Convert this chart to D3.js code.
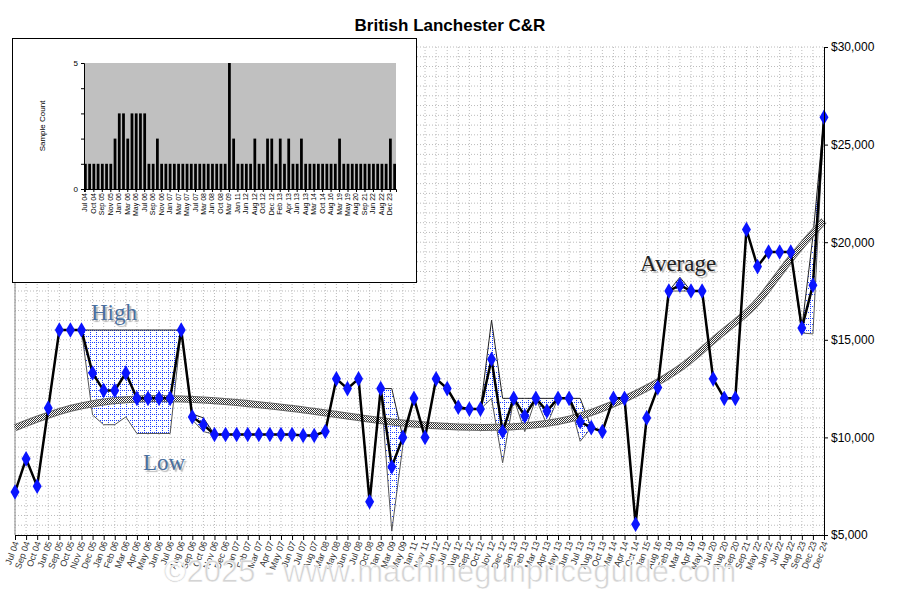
<!DOCTYPE html>
<html><head><meta charset="utf-8">
<script src="https://cdn.jsdelivr.net/npm/d3@7"></script>
<style>body{margin:0;background:#fff}svg{display:block}</style>
</head><body>
<script>
const categories=["Jul 04","Sep 04","Oct 04","Jun 05","Sep 05","Oct 05","Nov 05","Dec 05","Jan 06","Feb 06","Mar 06","Apr 06","May 06","Jun 06","Jul 06","Aug 06","Sep 06","Oct 06","Nov 06","Dec 06","Jan 07","Feb 07","Mar 07","Apr 07","May 07","Jun 07","Jul 07","Aug 07","Mar 08","May 08","Jun 08","Jul 08","Oct 08","Jan 09","Mar 09","May 09","Jan 11","Nov 11","Jun 12","Jul 12","Aug 12","Sep 12","Oct 12","Nov 12","Dec 12","Jan 13","Feb 13","Mar 13","Apr 13","May 13","Jun 13","Jul 13","Aug 13","Oct 13","Mar 14","Apr 14","Oct 14","Jan 15","Aug 16","Feb 19","Mar 19","Apr 19","May 19","Jul 20","Aug 20","Sep 20","Sep 21","May 22","Jun 22","Jul 22","Aug 22","Sep 23","Dec 23","Dec 24"];
const avgValues=[7200,8900,7500,11500,15500,15500,15500,13300,12400,12400,13300,12000,12000,12000,12000,15500,11050,10650,10150,10150,10150,10150,10150,10150,10150,10150,10100,10100,10300,13000,12500,13000,6700,12500,8500,10000,12000,10000,13000,12500,11550,11450,11450,14000,10300,12000,11100,12000,11350,12000,12000,10800,10500,10300,12000,12000,5550,11000,12550,17500,17800,17500,17500,13000,12000,12000,20650,18750,19500,19500,19500,15600,17800,26400];
const highValues=[7200,8900,7500,11500,15500,15500,15500,15500,15500,15500,15500,15500,15500,15500,15500,15500,11200,11000,10150,10150,10150,10150,10150,10150,10150,10150,10100,10100,10300,13000,12500,13000,6700,12500,12500,10000,12000,10000,13000,12500,11600,11450,11450,16000,12000,12000,12000,12000,12000,12000,12000,12000,10500,10300,12000,12000,5550,11000,12550,17500,18200,17500,17500,13000,12000,12000,20650,18750,19500,19500,19500,15600,20300,26400];
const lowValues=[7200,8900,7500,11500,15500,15500,15500,11150,10650,10650,11050,10200,10200,10200,10200,15500,10900,10300,10150,10150,10150,10150,10150,10150,10150,10150,10100,10100,10300,13000,12500,13000,6700,12500,5200,9600,12000,10000,13000,12500,11400,11450,11450,12000,8700,12000,10300,12000,10650,12000,12000,9800,10500,10300,12000,12000,5550,11000,12550,17500,17500,17500,17500,13000,12000,12000,20650,18750,19500,19500,19500,15350,15300,26400];
const trendIdx=[0,5,10,15,20,25,30,35,40,45,50,55,60,63,65,67,70,73];
const trendValues=[10500,11600,12000,12000,11800,11500,11100,10700,10500,10500,10800,11900,13400,15000,15900,16800,19250,21100];
const sampleCounts=[1,1,1,1,1,1,1,2,3,3,2,3,3,3,3,1,1,2,1,1,1,1,1,1,1,1,1,1,1,1,1,1,1,1,5,2,1,1,1,1,2,1,1,2,2,1,2,1,2,1,1,2,1,1,1,1,1,1,1,1,2,1,1,1,1,1,1,1,1,1,1,1,2,1];
const yTicks=[5000,10000,15000,20000,25000,30000];

const W=900,H=612;
const svg=d3.select("body").append("svg").attr("width",W).attr("height",H);
const defs=svg.append("defs");
const pat=defs.append("pattern").attr("id","bluegrid").attr("width",6).attr("height",6).attr("patternUnits","userSpaceOnUse");
pat.append("rect").attr("width",6).attr("height",6).attr("fill","#fff");
pat.append("path").attr("d","M0,0.5H6M0.5,0V6").attr("stroke","#1a3cff").attr("stroke-width",1).attr("stroke-dasharray","1,1");
const tp=defs.append("pattern").attr("id","check").attr("width",2).attr("height",2).attr("patternUnits","userSpaceOnUse");
tp.append("rect").attr("width",2).attr("height",2).attr("fill","#fff");
tp.append("rect").attr("width",1).attr("height",1).attr("fill","#333");
tp.append("rect").attr("x",1).attr("y",1).attr("width",1).attr("height",1).attr("fill","#333");

const L=15,R=824,T=47,B=535;
const x=d3.scalePoint().domain(d3.range(categories.length)).range([L,R]);
const y=d3.scaleLinear().domain([5000,30000]).range([B,T]);

const g=svg.append("g");
g.selectAll("line.v").data(d3.range(categories.length)).join("line")
 .attr("x1",d=>x(d)).attr("x2",d=>x(d)).attr("y1",T).attr("y2",B)
 .attr("stroke","#bbb").attr("stroke-dasharray","1,2");
g.selectAll("line.h").data(d3.range(5000,30001,500)).join("line")
 .attr("x1",L).attr("x2",R).attr("y1",d=>y(d)).attr("y2",d=>y(d))
 .attr("stroke","#bbb").attr("stroke-dasharray","1,2");
g.append("line").attr("x1",L).attr("x2",L).attr("y1",T).attr("y2",B).attr("stroke","#888");

const idx=d3.range(categories.length);
svg.append("path").datum(idx).attr("fill","url(#bluegrid)")
 .attr("d",d3.area().x(i=>x(i)).y0(i=>y(lowValues[i])).y1(i=>y(highValues[i])));
svg.append("path").datum(idx).attr("fill","none").attr("stroke","#222").attr("stroke-width",1)
 .attr("d",d3.line().x(i=>x(i)).y(i=>y(highValues[i])));
svg.append("path").datum(idx).attr("fill","none").attr("stroke","#555").attr("stroke-width",1)
 .attr("d",d3.line().x(i=>x(i)).y(i=>y(lowValues[i])));

const tl=d3.line().x((d,k)=>x(trendIdx[k])).y(d=>y(d)).curve(d3.curveBasis);
svg.append("path").datum(trendValues).attr("fill","none").attr("stroke","#666").attr("stroke-width",7).attr("d",tl);
svg.append("path").datum(trendValues).attr("fill","none").attr("stroke","url(#check)").attr("stroke-width",5).attr("d",tl);

svg.append("path").datum(idx).attr("fill","none").attr("stroke","#000").attr("stroke-width",2.5)
 .attr("d",d3.line().x(i=>x(i)).y(i=>y(avgValues[i])));
svg.selectAll("path.m").data(idx).join("path")
 .attr("transform",i=>`translate(${x(i)},${y(avgValues[i])})`)
 .attr("d",d3.symbol(d3.symbolDiamond,70)).attr("fill","#0a14ff");

const ya=svg.append("g").attr("transform",`translate(${R},0)`)
 .call(d3.axisRight(y).tickValues(yTicks).tickFormat(d=>"$"+d3.format(",")(d)).tickSize(4));
ya.select(".domain").attr("stroke","#000");
ya.selectAll("text").attr("font-family","Arial, Liberation Sans").attr("font-size",12).attr("fill","#000");
const xa=svg.append("g").attr("transform",`translate(0,${B})`)
 .call(d3.axisBottom(x).tickFormat(i=>categories[i]).tickSize(5).tickSizeOuter(0));
xa.select(".domain").attr("stroke","#000");
xa.selectAll("text").attr("font-family","Arial, Liberation Sans").attr("font-size",9).attr("fill","#333")
 .attr("transform","rotate(-70)").attr("text-anchor","end").attr("dx","-6").attr("dy","-2");

svg.append("text").attr("x",450).attr("y",31).attr("text-anchor","middle")
 .attr("font-family","Arial, Liberation Sans").attr("font-weight","bold").attr("font-size",17).text("British Lanchester C&R");

function lab(t,xx,yy,c){
 svg.append("text").attr("x",xx).attr("y",yy).attr("font-family","Liberation Serif, Times New Roman").attr("font-size",23)
  .attr("fill",c).style("text-shadow","2px 2px 1px #bbb").text(t);
}
lab("High",91,320,"#4a6f9e");
lab("Low",143,470,"#4a6f9e");
lab("Average",640,271,"#222");

svg.append("text").attr("x",450).attr("y",582).attr("text-anchor","middle")
 .attr("font-family","Arial, Liberation Sans").attr("font-size",31).attr("fill","#d4d4d4")
 .attr("stroke","#fff").attr("stroke-width",0.6).text("©2025 - www.machinegunpriceguide.com");

svg.append("rect").attr("x",12.5).attr("y",38.5).attr("width",404).attr("height",244).attr("fill","#fff").attr("stroke","#000");
const iL=84,iR=396,iT=63,iB=189;
const ix=d3.scaleBand().domain(idx).range([iL,iR]).paddingInner(0.35);
const iy=d3.scaleLinear().domain([0,5]).range([iB,iT]);
svg.append("rect").attr("x",iL).attr("y",iT).attr("width",iR-iL).attr("height",iB-iT).attr("fill","#c0c0c0");
svg.selectAll("rect.b").data(idx).join("rect").attr("x",i=>ix(i)).attr("width",ix.bandwidth())
 .attr("y",i=>iy(sampleCounts[i])).attr("height",i=>iB-iy(sampleCounts[i])).attr("fill","#000");
const iya=svg.append("g").attr("transform",`translate(${iL},0)`).call(d3.axisLeft(iy).tickValues([0,1,2,3,4,5]).tickFormat(d=>d===0||d===5?d:"").tickSize(3));
iya.selectAll("text").attr("font-family","Arial, Liberation Sans").attr("font-size",8);
const ixa=svg.append("g").attr("transform",`translate(0,${iB})`).call(d3.axisBottom(ix).tickValues(idx.filter(i=>i%2===0)).tickFormat(i=>categories[i]).tickSize(3));
ixa.selectAll("text").attr("font-family","Arial, Liberation Sans").attr("font-size",7).attr("fill","#000")
 .attr("transform","rotate(-90)").attr("text-anchor","end").attr("dx","-4").attr("dy","-4");
svg.append("text").attr("transform","translate(45,126) rotate(-90)").attr("text-anchor","middle")
 .attr("font-family","Arial, Liberation Sans").attr("font-size",8).text("Sample Count");
</script>
</body></html>
